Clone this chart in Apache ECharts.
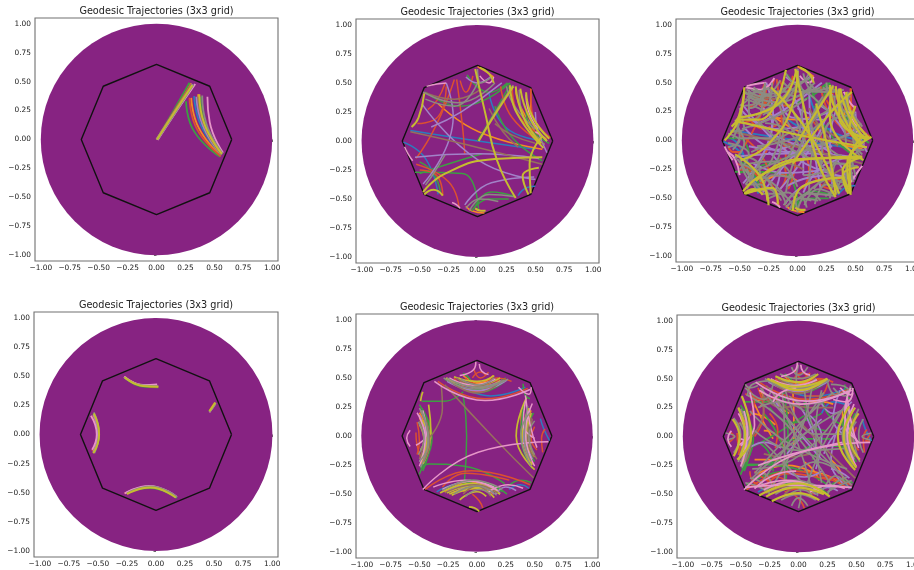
<!DOCTYPE html>
<html>
<head>
<meta charset="utf-8">
<style>
  html, body { margin: 0; padding: 0; background: #fff; overflow: hidden; width: 914px; height: 570px; }
  /* wider than the window: the last column runs off the right edge in the reference */
  #chart { width: 940px; height: 570px; filter: blur(0.5px); }
</style>
<script src="https://cdn.jsdelivr.net/npm/echarts@6/dist/echarts.min.js"></script>
</head>
<body>
<div id="chart"></div>
<script>
const titleText = "Geodesic Trajectories (3x3 grid)";
const tickValues = [-1, -0.75, -0.5, -0.25, 0, 0.25, 0.5, 0.75, 1];
const colors = ["#2b7dbd", "#f58a24", "#3d9f43", "#dc5030", "#a282c8", "#96705c", "#e696c8", "#8c8c82", "#c6bc30"];
const octagon = [[0.65, 0], [0.46, 0.46], [0, 0.65], [-0.46, 0.46], [-0.65, 0], [-0.46, -0.46], [0, -0.65], [0.46, -0.46], [0.65, 0]];
const discCentre = [0, 0];
const discRadius = 1;

// top left
const p1_blue = [[0,0,.15,.24,.295,.485],[.325,.375,.385,.12,.56,-.135]];
const p1_orange = [[0,0,.15,.24,.3,.485],[.3,.36,.365,.1,.555,-.14],[.36,.39,.4,.13,.56,-.13]];
const p1_green = [[0,0,.145,.245,.285,.49],[.255,.33,.325,.07,.55,-.15],[.38,.37,.42,.13,.565,-.13]];
const p1_red = [[0,0,.15,.24,.3,.48],[.285,.36,.35,.09,.555,-.145]];
const p1_purple = [[0,0,.155,.24,.31,.48],[.345,.37,.4,.125,.56,-.13]];
const p1_brown = [[.005,0,.155,.24,.305,.475],[.36,.37,.41,.13,.56,-.13]];
const p1_pink = [[.01,-.005,.17,.24,.335,.48],[.44,.37,.46,.15,.575,-.115]];
const p1_grey = [[.01,0,.165,.235,.32,.475],[.395,.38,.43,.14,.57,-.12]];
const p1_olive = [[.005,0,.155,.235,.31,.47],[.37,.39,.415,.13,.565,-.125]];

// top middle
const p2_blue = [[-.58,.09,-.13,.02,.5,-.07],[-.64,-.01,-.45,-.15,-.34,-.46],[.1,.41,.24,.12,.53,.01],[.35,-.47,.43,-.4,.5,-.39],[.4,.2,.5,.13,.6,.04]];
const p2_orange = [[-.34,.32,.01,.08,.56,-.07],[0,.64,.07,.6,.14,.55],[.33,.45,.36,.32,.55,0],[-.1,-.56,-.05,-.6,.06,-.62],[.46,.45,.46,.3,.58,.06]];
const p2_green = [[-.54,-.27,-.13,-.28,.01,-.6],[-.45,.42,-.15,.3,.28,.5],[-.5,-.28,-.26,-.2,.04,-.11],[.15,.3,.3,.03,.56,-.17],[-.03,-.58,.12,-.44,.33,-.48],[-.09,.57,.1,.42,.26,.5],[0,0,.145,.245,.285,.49],[.42,.25,.47,.1,.62,-.02],[-.05,-.6,.1,-.5,.27,-.5],[-.5,-.18,-.38,-.28,-.32,-.45]];
const p2_red = [[-.2,.53,-.36,.13,-.53,-.15],[-.11,-.11,-.13,.13,-.18,.53],[-.52,.15,-.34,.21,-.27,.47],[-.53,-.2,-.25,-.35,-.16,-.57],[-.5,-.25,-.35,-.3,-.3,-.47],[-.43,.27,-.35,.35,-.28,.5],[.3,.45,.37,.2,.6,.02],[.46,.45,.47,.25,.63,.03],[.2,.47,.3,.2,.58,-.03],[-.15,.52,-.1,.42,-.04,.56]];
const p2_purple = [[-.27,.5,-.21,.21,-.47,-.37],[-.54,-.14,0,-.11,.53,-.15],[-.4,.12,-.14,.25,.21,.5],[-.11,-.55,.12,-.36,.49,-.31],[-.48,.32,0,-.16,.5,-.33],[-.1,.55,0,.5,.12,.56],[.5,.25,.52,.1,.6,-.1]];
const p2_brown = [[-.58,.08,-.1,-.03,.56,-.2],[.15,.15,.3,.05,.5,-.02],[.02,.02,.15,.24,.3,.475],[-.46,.42,-.2,.36,.02,.44],[.1,.28,.22,.08,.35,-.05]];
const p2_pink = [[-.44,.47,-.35,.49,-.27,.5],[-.63,-.05,-.6,-.11,-.56,-.17],[-.22,-.53,-.18,-.55,-.15,-.58],[.42,.4,.43,.3,.52,.1],[.5,.08,.55,.05,.6,0],[.02,.56,.1,.5,.14,.55]];
const p2_grey = [[-.47,.42,-.17,.33,.15,.5],[-.45,.36,-.2,.3,0,.5],[-.07,-.6,.1,-.46,.32,-.48],[.36,.44,.4,.2,.58,-.03],[.02,.02,.15,.24,.31,.48],[-.45,-.38,-.38,-.28,-.28,-.12],[-.1,-.58,.02,-.5,.18,-.52],[.25,.47,.32,.3,.5,.1],[.0,.62,.03,.5,.12,.55]];
const p2_olive = [[-.02,.62,.06,.27,.17,-.17,.33,-.49],[.01,0,.155,.235,.31,.47],[.33,.47,.4,.2,.55,-.02],[.37,.45,.45,.2,.6,0],[.28,.48,.34,.24,.57,-.06],[.56,.04,.45,-.2,.46,-.45],[.44,-.46,.39,-.3,.53,-.23],[-.47,-.44,-.28,-.28,.15,-.155,.56,-.14],[-.46,-.46,-.38,-.42,-.3,-.47],[-.57,.12,-.51,.2,-.46,.41],[.42,.42,.47,.22,.62,.02],[-.02,-.58,.03,-.6,.07,-.6],[.02,.63,.1,.58,.14,.5]];

// top right adds to the paths of the top middle panel
const p3_blue = p2_blue.concat([[-.1,.2,.1,.1,.3,.1],[-.58,.02,-.5,-.05,-.45,-.2]]);
const p3_orange = p2_orange.concat([[-.2,.2,0,.18,.1,.2],[-.35,-.4,-.15,-.3,0,-.35]]);
const p3_green = p2_green.concat([[-.6,.02,-.5,.02,-.42,-.1],[.1,.55,.2,.3,.4,.25]]);
const p3_red = p2_red.concat([
  [-.3,.42,-.1,.3,.05,.4],[-.42,.2,-.3,.1,-.15,.15],[-.38,.4,-.3,.3,-.2,.36],[-.05,-.05,-.02,-.2,-.08,-.42],
  [.05,-.1,.1,-.25,.05,-.42],[-.5,.05,-.35,-.08,-.25,-.25],[-.15,-.15,-.1,-.3,-.15,-.42],[.1,.2,.2,.05,.22,-.12],
  [.25,.35,.35,.25,.45,.3],[.4,.1,.47,.2,.5,.3],[.2,-.3,.3,-.35,.4,-.3],[-.6,-.05,-.55,-.1,-.48,-.1],
  [-.25,.12,-.12,0,-.1,-.18],[.12,-.25,.2,-.38,.3,-.42],[-.4,-.12,-.3,-.12,-.25,-.02],[.08,.05,.0,-.05,-.08,-.02]]);
const p3_purple = p2_purple.concat([
  [-.5,.28,-.2,.1,.05,.12],[-.45,.1,-.1,-.1,.3,-.05],[-.05,.4,.05,.1,.05,-.3],[.1,.45,.12,.1,.2,-.42],
  [.3,.4,.18,.05,-.15,-.42],[-.3,-.45,-.1,-.2,.15,.05],[-.38,-.2,-.1,-.28,.25,-.25],[-.2,.05,.1,-.05,.5,.1],
  [.35,.3,.28,0,.3,-.38],[-.15,.4,-.05,.2,.25,.18],[-.42,-.05,-.2,-.08,-.02,-.02],[.05,-.45,.25,-.2,.5,-.15],
  [.12,-.02,.3,-.12,.42,-.32],[-.25,-.1,-.15,-.25,-.2,-.45],[.0,.28,.18,.22,.38,.35],[-.3,.28,-.22,.15,-.25,-.05],
  [.2,.3,.3,.22,.42,.05],[-.1,-.4,.1,-.32,.3,-.3]]);
const p3_brown = p2_brown.concat([[-.3,-.3,-.1,-.2,.05,-.25],[.2,-.42,.3,-.3,.45,-.22]]);
const p3_pink = p2_pink.concat([[-.45,.46,-.32,.44,-.2,.54],[-.6,-.1,-.54,-.16,-.5,-.3],[.42,-.42,.5,-.3,.56,-.22],[.4,.42,.46,.32,.5,.28]]);
const p3_grey = p2_grey.concat([
  [-.45,.42,-.28,.3,-.22,.5],[-.44,.44,-.3,.38,-.15,.52],[-.46,.3,-.3,.36,-.28,.48],[-.1,.58,0,.48,.1,.58],[0,.62,.08,.42,.3,.46],[.05,.58,.15,.42,.32,.42],
  [.25,.5,.3,.38,.46,.38],[.3,.45,.38,.38,.44,.25],[.44,.42,.38,.3,.5,.2],[.5,.24,.42,.12,.6,.02],[.6,.06,.5,0,.6,-.06],[.55,.15,.48,.02,.55,-.15],
  [.58,-.08,.46,-.1,.5,-.3],[.52,-.22,.42,-.22,.42,-.44],[.46,-.4,.34,-.35,.28,-.5],[.38,-.42,.25,-.38,.15,-.55],[.2,-.52,.1,-.45,0,-.6],[.08,-.58,0,-.45,-.12,-.56],
  [0,-.62,-.08,-.45,-.25,-.5],[-.1,-.55,-.2,-.42,-.36,-.42],[-.25,-.48,-.32,-.38,-.45,-.38],[-.3,-.44,-.38,-.35,-.44,-.24],[-.44,-.42,-.38,-.28,-.5,-.2],[-.5,-.25,-.42,-.12,-.6,-.02],
  [-.6,-.06,-.5,0,-.6,.06],[-.54,-.16,-.46,-.02,-.55,.15],[-.58,.08,-.46,.1,-.5,.28],[-.52,.2,-.42,.22,-.42,.44],[-.44,.38,-.34,.35,-.28,.5],
  [-.48,.1,-.2,.2,.08,.36],[-.4,-.1,-.1,.05,.3,.28],[-.2,.42,-.05,.1,.22,-.2],[.05,.42,.02,.1,-.2,-.3],[.3,.25,.05,.05,-.35,-.05],[.45,.05,.15,-.05,-.4,-.28],
  [.42,-.2,.1,-.15,-.35,.18],[.35,-.35,.12,-.1,-.05,.3],[.1,-.45,.12,-.15,.32,.2],[-.1,-.45,-.02,-.15,.18,.25],[-.32,-.35,-.15,-.1,-.12,.2],[-.42,-.2,-.2,-.18,.0,-.4],
  [-.38,.3,-.15,.08,-.25,-.22],[.22,.38,.12,.15,.4,-.15],[.48,.22,.25,.12,.2,-.3],[-.28,.15,-.1,.1,.05,-.12],[-.3,-.42,-.22,-.3,-.05,-.32],[.05,-.3,.2,-.28,.38,-.12],
  [-.5,.02,-.35,.02,-.2,.02],[-.05,.45,-.12,.35,-.3,.22],[.38,.3,.4,.15,.42,-.02],
  [-.4,.44,-.25,.4,-.1,.46],[-.3,.46,-.12,.42,.05,.52],[.1,.5,.22,.42,.38,.44],[.42,.35,.44,.2,.54,.08],[.5,.12,.5,-.02,.56,-.12],[.48,-.28,.38,-.34,.34,-.46],
  [.3,-.46,.18,-.42,.06,-.56],[-.04,-.56,-.16,-.46,-.3,-.46],[-.36,-.42,-.42,-.3,-.52,-.16],[-.56,-.08,-.5,.04,-.54,.18],[-.5,.3,-.42,.36,-.36,.44],[-.12,.5,.02,.42,.2,.46],
  [-.42,-.36,-.3,-.32,-.2,-.46],[.36,-.42,.28,-.3,.14,-.42],[.46,-.22,.34,-.2,.3,-.36],[.44,.16,.34,.22,.32,.38],[-.44,.18,-.34,.2,-.3,.38],[-.46,-.14,-.34,-.2,-.32,-.36],
  [-.44,.4,-.34,.42,-.24,.46],[-.42,.28,-.36,.3,-.3,.42],[-.38,.46,-.22,.38,-.06,.5],[.22,.46,.3,.42,.4,.44],[.36,.36,.42,.3,.44,.38],[.46,.26,.5,.2,.56,.12],
  [.56,.1,.52,.06,.62,.02],[.54,-.08,.46,-.2,.48,-.36],[.42,-.36,.34,-.42,.24,-.48],[.12,-.52,.02,-.5,-.06,-.58],[-.14,-.52,-.26,-.42,-.4,-.44],[-.4,-.36,-.46,-.28,-.5,-.12],
  [-.56,.02,-.52,.1,-.48,.24],[-.14,.46,-.02,.38,.12,.46],[.34,-.32,.2,-.36,.06,-.48],[-.34,-.28,-.2,-.38,-.1,-.48],[-.36,.22,-.22,.3,-.08,.42],[.34,.18,.22,.3,.08,.42]]);
const p3_olive = p2_olive.concat([
  [-.01,.61,-.16,.32,-.51,.2],[-.23,.46,.1,.06,.36,-.46],[-.63,0,-.5,.2,-.46,.46],[-.54,.17,0,.05,.6,-.06],[-.49,-.17,-.25,-.03,-.04,.32,0,.6],
  [-.45,-.46,-.22,-.41,-.17,-.55],[-.54,-.12,-.33,-.3,-.26,-.52],[.36,.45,.36,.2,.6,.01],[.47,.42,.25,.2,-.04,-.2],[.29,.46,.28,.2,.57,-.17],
  [.16,.32,.27,-.1,.33,-.47],[.46,-.46,.39,-.26,.54,-.15],[.46,-.47,.43,-.2,.64,.03],[-.04,-.61,.04,-.4,.39,-.32],[-.36,-.35,0,-.16,.56,-.15],
  [-.53,.18,-.33,.18,-.1,.61],[-.46,-.46,-.3,-.42,-.25,-.56],[.5,.3,.45,.1,.62,.03]]);

// bottom left
const p4_green = [[-.27,.49,-.11,.41,.02,.405],[.455,.2,.48,.23,.505,.27],[-.54,.18,-.49,0,-.54,-.155],[-.25,-.5,-.05,-.46,.18,-.545]];
const p4_red = [[-.27,.495,-.11,.42,.02,.41],[.46,.2,.48,.235,.505,.27],[-.55,.16,-.505,0,-.55,-.14],[-.27,-.505,-.05,-.45,.17,-.535]];
const p4_purple = [[-.27,.495,-.11,.42,.01,.415],[.465,.2,.49,.235,.51,.27],[-.54,.17,-.5,0,-.54,-.15],[-.26,-.5,-.05,-.45,.17,-.54]];
const p4_pink = [[-.275,.495,-.11,.425,.01,.43],[.46,.19,.485,.23,.51,.265],[-.56,.16,-.51,0,-.55,-.13],[-.27,-.505,-.06,-.44,.18,-.535]];
const p4_grey = [[-.275,.49,-.11,.42,.02,.415],[.46,.195,.49,.23,.515,.27],[-.535,.19,-.49,.01,-.53,-.16],[-.25,-.505,-.05,-.445,.18,-.535]];
const p4_olive = [[-.27,.49,-.11,.415,.02,.41],[.46,.2,.485,.235,.51,.275],[-.535,.18,-.49,0,-.54,-.16],[-.25,-.51,-.05,-.455,.17,-.54]];

// bottom middle
const p5_blue = [[-.17,.44,.12,.345,.42,.42],[.55,.15,.58,.06,.63,-.04],[-.35,-.48,-.1,-.4,.12,-.47],[.28,-.46,.38,-.42,.45,-.45]];
const p5_orange = [[-.15,.48,.02,.41,.18,.46],[.38,.22,.4,-.02,.46,-.2],[-.5,.16,-.45,-.05,-.48,-.24],[-.25,-.46,-.03,-.4,.15,-.46],[-.08,.5,.02,.45,.12,.5],
  [-.24,.49,-.02,.385,.2,.48],[-.12,.52,.02,.46,.14,.52],[-.5,.2,-.43,-.02,-.49,-.24],[.47,.22,.41,0,.48,-.24],[-.28,-.48,-.02,-.39,.2,-.47]];
const p5_green = [[-.12,.35,-.09,0,-.11,-.4],[-.48,.3,-.28,.3,-.12,.38],[-.5,-.33,-.42,-.24,-.11,-.26,.24,-.41],[-.28,.49,-.02,.4,.25,.5],[.41,.28,.38,0,.48,-.28],[-.48,.24,-.39,-.02,-.49,-.28],[-.27,-.46,-.05,-.38,.22,-.48],[.27,-.43,.38,-.38,.47,-.4],[.4,.45,.42,.35,.46,.32],[-.12,.54,-.07,.5,-.05,.46],
  [-.2,.47,.02,.375,.24,.47],[-.5,.27,-.405,-.02,-.47,-.3],[.49,.2,.43,0,.5,-.22],[-.24,-.47,0,-.39,.26,-.5]];
const p5_red = [[-.45,-.46,-.05,-.3,.46,-.42],[.59,.06,.56,-.02,.57,-.14],[-.34,.47,.07,.32,.44,.41],[-.04,.5,.03,.55,.08,.52],[-.03,.58,.03,.5,.1,.55],[-.04,-.5,.02,-.56,.05,-.62],[-.2,.5,0,.38,.2,.5],[.3,.47,.18,.5,.08,.46],[-.53,.03,-.52,-.08,-.48,-.2],[-.3,-.44,-.1,-.32,.28,-.38],
  [-.1,.5,.04,.43,.18,.5],[-.52,.12,-.5,-.04,-.52,-.16],[.5,.08,.47,-.02,.52,-.12],[-.12,-.48,0,-.45,.14,-.5]];
const p5_purple = [[-.22,.48,0,.42,.22,.48],[-.45,.14,-.44,-.03,-.48,-.17],[.44,.2,.43,.02,.48,-.2],[-.18,-.48,-.02,-.42,.15,-.5],[.16,-.5,.25,-.44,.34,-.47],
  [-.26,.47,0,.39,.26,.48],[-.5,.18,-.44,-.04,-.5,-.22],[.46,.24,.4,.02,.46,-.2],[-.26,-.48,-.03,-.41,.2,-.49]];
const p5_brown = [[-.31,.44,-.3,.24,-.41,-.01],[-.28,.44,.15,-.02,.49,-.36],[-.18,.5,0,.43,.16,.49],[-.46,.18,-.41,-.05,-.46,-.22],[.48,.15,.46,-.03,.52,-.2],[-.12,-.5,0,-.43,.12,-.52],
  [-.22,.46,0,.37,.22,.48],[-.5,.13,-.46,-.01,-.5,-.2],[.47,.16,.44,-.02,.49,-.18],[-.28,-.49,-.02,-.42,.18,-.49]];
const p5_pink = [[-.37,.47,.07,.305,.46,.4],[-.47,-.46,.01,-.14,.62,-.05],[-.01,.64,-.03,.57,-.15,.52],[.42,.3,.4,.1,.5,-.02],[-.58,.05,-.61,-.02,-.58,-.09],[.1,-.48,.27,-.42,.4,-.45],[-.47,.22,-.44,.02,-.53,-.08],[.42,.35,.46,.1,.52,-.1],[.02,.62,.04,.56,.1,.53],[-.38,-.44,-.1,-.38,.15,-.44],[.36,.42,.45,.36,.47,.42],
  [-.24,.5,-.04,.44,.16,.49],[-.52,.2,-.45,-.02,-.5,-.26],[.48,.28,.42,.02,.5,-.26],[-.3,-.46,-.05,-.39,.18,-.47]];
const p5_grey = [[-.26,.5,0,.42,.24,.48],[-.48,.22,-.42,-.05,-.5,-.22],[.44,.26,.41,0,.47,-.22],[-.3,-.47,-.03,-.38,.22,-.46],[-.14,.49,.02,.44,.15,.5],[-.51,.12,-.46,-.02,-.51,-.16],[.5,.13,.45,0,.5,-.16],[-.1,-.52,.02,-.46,.12,-.5],
  [-.29,.5,-.02,.405,.27,.49],[-.5,.24,-.425,-.02,-.49,-.27],[.46,.2,.38,.02,.47,-.26],[-.2,-.5,0,-.43,.17,-.51]];
const p5_olive = [[-.27,.5,-.02,.43,.2,.5],[-.2,.51,0,.47,.15,.52],[-.42,.27,-.4,.02,-.48,-.2],[-.48,.14,-.43,0,-.48,-.18],[-.5,.1,-.46,-.04,-.49,-.12],[.43,.33,.34,0,.5,-.29],[.47,.2,.44,0,.5,-.18],[.44,.15,.42,-.05,.48,-.15],[-.32,-.49,-.05,-.41,.2,-.5],[-.22,-.51,0,-.45,.15,-.53],[-.15,-.55,0,-.48,.08,-.52],[-.07,-.61,-.02,-.62,.02,-.65],[-.49,.3,-.48,.35,-.47,.38],
  [-.16,.5,.02,.415,.2,.47],[-.49,.22,-.41,-.04,-.47,-.24],[.45,.24,.39,-.02,.48,-.25],[-.26,-.49,-.02,-.425,.2,-.5],[-.24,-.5,0,-.44,.12,-.5]];

// bottom right adds to the paths of the bottom middle panel
const p6_blue = p5_blue.concat([[.2,.2,.3,.3,.4,.28]]);
const p6_orange = p5_orange.concat([
  [-.05,.41,-.04,.15,-.04,-.08],[-.38,.28,-.3,.12,-.22,-.02],[-.4,.2,-.3,.17,-.2,.1],[-.35,-.32,-.1,-.25,.1,-.3],[.05,-.3,.2,-.32,.38,-.42],[-.42,.35,-.3,.3,-.2,.32],
  [-.3,.05,-.2,.02,-.12,-.12],[.1,.3,.2,.3,.3,.28],[-.38,-.2,-.25,-.2,-.12,-.22],[.05,-.22,.12,-.28,.18,-.38],[-.33,.4,-.3,.32,-.34,.25],[-.2,.35,-.15,.25,-.08,.2],[.28,-.2,.35,-.28,.4,-.4]]);
const p6_green = p5_green.concat([
  [-.42,-.1,-.2,.02,.05,.18],[-.3,.2,-.15,-.05,-.1,-.3],[-.45,-.25,-.2,-.22,.1,-.08],[.05,.3,.12,.1,.25,.05],[-.25,.25,-.05,.12,.2,.2],[.12,-.2,.25,-.08,.42,-.1],
  [-.35,-.05,-.25,-.15,-.22,-.3],[.2,.38,.25,.2,.38,.1],[-.15,-.05,.05,-.02,.3,-.02],[-.45,-.42,-.3,-.34,-.12,-.3]]);
const p6_red = p5_red.concat([
  [-.46,.37,-.3,.32,-.15,.38],[-.44,.42,-.38,.3,-.42,.18],[-.35,.42,-.3,.2,-.38,0],[-.38,-.3,-.2,-.42,-.05,-.46],[-.34,-.4,-.2,-.35,-.1,-.38],[-.3,-.3,-.25,-.38,-.18,-.42],
  [-.25,.2,-.18,.05,-.2,-.1],[-.42,-.3,-.38,-.4,-.22,-.44],[.25,.45,.18,.35,.05,.35],[.2,-.35,.3,-.38,.42,-.44],[.62,.02,.58,-.04,.62,-.04],[-.6,.04,-.56,0,-.6,-.05]]);
const p6_purple = p5_purple.concat([
  [.38,-.4,.28,-.22,.35,.1],[.2,.15,.05,.02,-.1,-.15],[.46,.3,.3,.2,.18,.32],[-.2,.3,-.05,.1,.2,-.2],[.36,.4,.3,.15,.45,-.02],[-.02,.3,.1,.1,.15,-.12],
  [.28,-.28,.35,-.3,.44,-.36],[.1,.18,.2,0,.15,-.28],[-.45,-.12,-.3,-.05,-.15,-.1],[.42,.1,.3,0,.22,-.15],[-.1,-.3,.05,-.35,.2,-.3]]);
const p6_brown = p5_brown.concat([[-.1,.3,.1,.25,.3,.25],[-.3,-.15,-.1,-.18,.1,-.15],[-.3,.35,-.15,.25,0,.28]]);
const p6_pink = p5_pink.concat([
  [-.34,.4,.02,.28,.43,.39],[-.35,-.25,-.05,-.15,.38,-.05],[-.38,-.45,-.2,-.33,-.02,-.3],[-.46,-.44,-.1,-.42,.46,-.44],[.45,.42,.4,.2,.52,-.05],
  [-.42,.38,-.38,.1,-.5,-.08],[-.22,.3,-.15,.38,-.02,.42],[.3,.32,.42,.3,.47,.38],[-.5,-.02,-.46,-.05,-.48,-.14]]);
const p6_grey = p5_grey.concat([
  [-.33,.42,0,.05,.46,-.42],[-.45,.36,-.1,.1,.3,-.45],[-.25,.42,-.05,.05,.12,-.48],[.3,.38,.05,.15,-.38,-.32],[.42,.25,.02,0,-.4,-.36],[.12,.45,.02,.05,-.22,-.42],
  [-.42,.22,-.1,-.05,.42,-.28],[-.38,.05,0,-.12,.45,-.1],[.05,.42,.12,.1,.35,-.32],[-.12,.42,.15,.02,.42,.02],[-.4,-.28,-.05,-.2,.35,.2],
  [-.14,.38,-.12,0,-.12,-.42],[.2,.4,.15,.05,.2,-.4],[-.32,-.4,-.1,-.08,.22,.38],[.06,-.45,.2,-.1,.42,.3],
  [-.46,.45,-.42,.42,-.35,.44],[-.46,.42,-.3,.32,-.22,.45],[-.44,.35,-.4,.45,-.25,.48],[.45,.44,.4,.35,.3,.42],[.46,.42,.32,.36,.25,.48],[.44,.36,.42,.42,.28,.45],
  [-.45,-.45,-.3,-.32,-.22,-.45],[-.46,-.4,-.38,-.42,-.25,-.48],[-.42,-.36,-.32,-.4,-.25,-.5],[.44,-.45,.32,-.34,.22,-.45],[.46,-.38,.36,-.42,.25,-.48],[.42,-.35,.32,-.4,.25,-.5],
  [-.63,.03,-.55,.0,-.62,-.03],[-.56,.16,-.5,.02,-.56,-.14],[-.52,.24,-.47,.06,-.52,-.22],[.63,.03,.55,0,.62,-.03],[.56,.15,.52,.02,.56,-.14],[.52,.24,.47,.05,.53,-.22],
  [-.06,.6,0,.53,.08,.6],[-.16,.54,0,.5,.15,.54],[-.06,-.6,0,-.53,.08,-.6],[-.15,-.55,0,-.5,.15,-.55],[0,.62,-.02,.5,.02,.42],[0,-.62,.02,-.5,-.02,-.4],
  [-.35,.25,-.15,.3,.05,.22],[.0,-.28,.15,-.22,.32,-.28],[-.3,-.05,-.15,-.2,.05,-.42],[.22,.3,.05,.28,-.08,.35]]);
// the arcs of this panel read separately from each other, so it gets its own short list
const p6_olive = [[-.27,.5,-.02,.43,.25,.5],[-.2,.52,0,.47,.17,.54],[-.23,.49,0,.4,.25,.5],[-.34,-.51,0,-.405,.27,-.52],[-.23,-.56,0,-.49,.18,-.55],[-.28,-.52,-.02,-.44,.22,-.5],[-.49,.35,-.41,0,-.53,-.2],[-.57,.15,-.51,0,-.56,-.17],[-.52,.25,-.46,0,-.52,-.2],[.44,.26,.34,0,.49,-.29],[.52,.2,.44,0,.53,-.2],[.49,.25,.39,0,.5,-.27]];

const groups = [
  [p1_blue, p1_orange, p1_green, p1_red, p1_purple, p1_brown, p1_pink, p1_grey, p1_olive],
  [p2_blue, p2_orange, p2_green, p2_red, p2_purple, p2_brown, p2_pink, p2_grey, p2_olive],
  [p3_blue, p3_orange, p3_green, p3_red, p3_purple, p3_brown, p3_pink, p3_grey, p3_olive],
  [[], [], p4_green, p4_red, p4_purple, [], p4_pink, p4_grey, p4_olive],
  [p5_blue, p5_orange, p5_green, p5_red, p5_purple, p5_brown, p5_pink, p5_grey, p5_olive],
  [p6_blue, p6_orange, p6_green, p6_red, p6_purple, p6_brown, p6_pink, p6_grey, p6_olive],
];

// axes boxes in page pixels
const boxes = [
  [35, 18, 243, 243],
  [356, 19, 243, 244],
  [676, 19, 243, 243],
  [34, 312, 244, 245],
  [356, 314, 242, 244],
  [677, 315, 243, 243],
];
const lineWidths = [1.8, 1.5, 1.9, 1.8, 1.5, 1.7];
const oliveExtra = [0.2, 0.5, 0.3, 0.2, 0.2, 0.5];
// stacking per colour; olive goes lower in the bottom middle panel
const layers = [
  [0, 1, 2, 3, 4, 5, 6, 7, 8],
  [0, 1, 2, 3, 4, 5, 6, 7, 8],
  [0, 1, 2, 3, 4, 5, 6, 7, 8],
  [0, 1, 2, 3, 4, 5, 6, 7, 8],
  [0, 1, 2, 3, 4, 6, 7, 8, 5],
  [0, 1, 2, 3, 4, 5, 7, 6, 8],
];

const chart = echarts.init(document.getElementById("chart"));

function toPairs(flat) {
  let pairs = [];
  for (let i = 0; i < flat.length; i += 2) pairs.push([flat[i], flat[i + 1]]);
  return pairs;
}

function labelText(v) {
  return v.toFixed(2).replace("-", "\u2212");
}

let grids = [], xAxes = [], yAxes = [], titles = [], series = [];

boxes.forEach(function (b, p) {
  grids.push({ left: b[0], top: b[1], width: b[2], height: b[3], show: true, backgroundColor: "#fff", borderColor: "#707070", borderWidth: 1.1 });
  titles.push({
    text: titleText,
    left: b[0] + b[2] / 2,
    top: b[1] - 12,
    textAlign: "center",
    textStyle: { fontFamily: "DejaVu Sans", fontSize: 9.7, fontWeight: "normal", color: "#222", lineHeight: 11 },
    padding: 0,
  });
  let axis = {
    type: "value",
    gridIndex: p,
    min: -1.05,
    max: 1.05,
    splitLine: { show: false },
    axisLine: { show: false },
    axisTick: { show: true, length: 2.5, customValues: tickValues, lineStyle: { color: "#444", width: 0.8 } },
    axisLabel: {
      customValues: tickValues,
      formatter: labelText,
      fontFamily: "DejaVu Sans",
      fontSize: 7.4,
      color: "#222",
      margin: 4,
    },
  };
  xAxes.push(Object.assign({}, axis));
  yAxes.push(Object.assign({}, axis));

  series.push({
    type: "custom",
    xAxisIndex: p,
    yAxisIndex: p,
    silent: true,
    z: 1,
    data: [discCentre],
    renderItem: function (params, api) {
      let c = api.coord([api.value(0), api.value(1)]);
      let r = api.size([discRadius * 2, discRadius * 2]);
      return {
        type: "circle",
        shape: { cx: c[0], cy: c[1], r: (r[0] + r[1]) / 4 },
        style: { fill: "#872382" },
      };
    },
  });
  series.push({
    type: "line",
    xAxisIndex: p,
    yAxisIndex: p,
    silent: true,
    data: octagon,
    symbol: "none",
    z: 2,
    lineStyle: { color: "#111", width: 1.4 },
  });
  groups[p].forEach(function (curves, c) {
    curves.forEach(function (flat) {
      series.push({
        type: "line",
        xAxisIndex: p,
        yAxisIndex: p,
        silent: true,
        data: toPairs(flat),
        smooth: 0.5,
        symbol: "none",
        z: 3 + layers[p][c],
        lineStyle: { color: colors[c], width: c === 8 ? lineWidths[p] + oliveExtra[p] : lineWidths[p] },
      });
    });
  });
});

chart.setOption({
  animation: false,
  backgroundColor: "#fff",
  title: titles,
  grid: grids,
  xAxis: xAxes,
  yAxis: yAxes,
  series: series,
});
</script>
</body>
</html>
